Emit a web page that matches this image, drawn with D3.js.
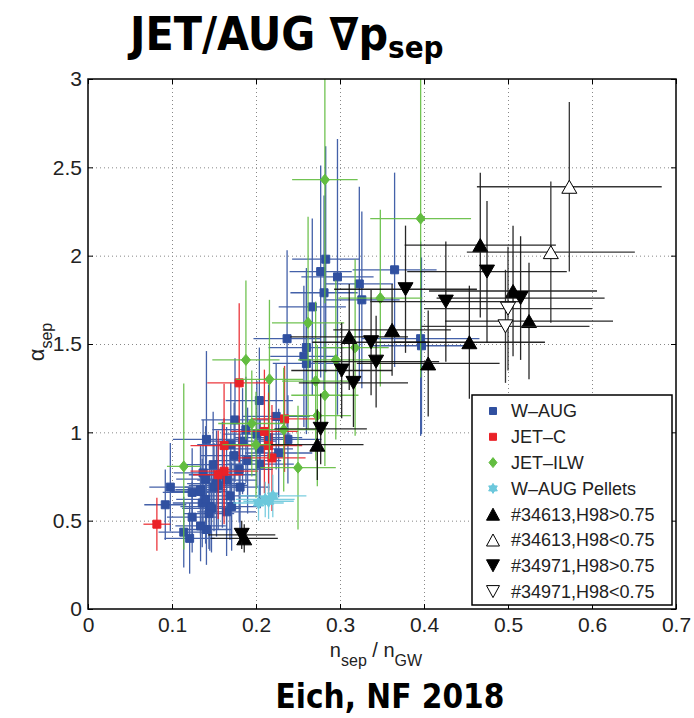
<!DOCTYPE html>
<html>
<head>
<meta charset="utf-8">
<script src="https://cdn.jsdelivr.net/npm/d3@7/dist/d3.min.js"></script>
<style>
  body { margin: 0; background: #fff; }
  text { font-family: "Liberation Sans", Arial, sans-serif; }
</style>
</head>
<body>
<svg id="chart" width="694" height="718"></svg>
<script>
// tick values / labels
const xTicks = [0, 0.1, 0.2, 0.3, 0.4, 0.5, 0.6, 0.7];
const xTickLabels = ["0", "0.1", "0.2", "0.3", "0.4", "0.5", "0.6", "0.7"];
const yTicks = [0, 0.5, 1, 1.5, 2, 2.5, 3];
const yTickLabels = ["0", "0.5", "1", "1.5", "2", "2.5", "3"];

// each point: [n_sep/n_GW, alpha_sep, x error, y error]
const wAug = [
  [0.283, 1.98, 0.040, 0.64], [0.277, 1.91, 0.037, 0.60], [0.297, 1.88, 0.043, 0.78],
  [0.281, 1.79, 0.040, 0.55], [0.323, 1.84, 0.040, 0.55], [0.326, 1.75, 0.045, 0.50],
  [0.267, 1.71, 0.040, 0.50], [0.365, 1.92, 0.050, 0.55], [0.237, 1.53, 0.040, 0.50],
  [0.260, 1.48, 0.045, 0.45], [0.257, 1.43, 0.040, 0.40], [0.260, 1.39, 0.040, 0.40],
  [0.396, 1.53, 0.070, 0.55], [0.397, 1.49, 0.060, 0.50],
  [0.204, 1.18, 0.040, 0.30], [0.224, 1.09, 0.040, 0.30], [0.175, 1.07, 0.040, 0.35],
  [0.141, 0.96, 0.040, 0.50], [0.238, 0.96, 0.040, 0.25], [0.201, 0.99, 0.040, 0.30],
  [0.188, 1.015, 0.040, 0.30], [0.184, 0.95, 0.040, 0.30], [0.204, 0.906, 0.040, 0.30],
  [0.174, 0.868, 0.040, 0.30], [0.227, 0.883, 0.040, 0.25], [0.205, 0.82, 0.040, 0.25],
  [0.149, 0.817, 0.035, 0.30], [0.137, 0.77, 0.035, 0.30], [0.098, 0.69, 0.025, 0.25],
  [0.092, 0.59, 0.025, 0.20], [0.124, 0.66, 0.035, 0.25], [0.124, 0.52, 0.030, 0.20],
  [0.114, 0.435, 0.030, 0.20], [0.121, 0.40, 0.030, 0.20], [0.141, 0.45, 0.030, 0.20],
  [0.134, 0.665, 0.035, 0.25], [0.145, 0.58, 0.035, 0.25], [0.165, 0.55, 0.035, 0.25],
  [0.171, 0.58, 0.035, 0.25], [0.153, 0.71, 0.035, 0.30], [0.165, 0.73, 0.035, 0.30],
  [0.181, 0.69, 0.035, 0.30], [0.136, 0.60, 0.035, 0.25], [0.150, 0.69, 0.035, 0.25],
  [0.140, 0.62, 0.035, 0.25], [0.147, 0.57, 0.035, 0.25], [0.140, 0.735, 0.035, 0.30],
  [0.134, 0.675, 0.030, 0.25], [0.155, 0.70, 0.035, 0.25], [0.169, 0.64, 0.035, 0.25],
  [0.144, 0.54, 0.030, 0.20], [0.134, 0.47, 0.030, 0.20], [0.180, 0.79, 0.040, 0.30],
  [0.160, 0.76, 0.040, 0.30], [0.190, 0.84, 0.040, 0.30], [0.215, 0.97, 0.040, 0.30],
  [0.170, 0.93, 0.040, 0.35]
];

const jetC = [
  [0.180, 1.28, 0.038, 0.45], [0.234, 1.076, 0.040, 0.30], [0.210, 1.005, 0.040, 0.35],
  [0.215, 0.925, 0.040, 0.30], [0.162, 0.925, 0.040, 0.35], [0.219, 0.855, 0.040, 0.30],
  [0.162, 0.78, 0.040, 0.30], [0.082, 0.48, 0.016, 0.15], [0.155, 0.76, 0.030, 0.25]
];

const jetIlw = [
  [0.282, 2.43, 0.039, 0.70], [0.396, 2.21, 0.060, 0.90], [0.262, 1.62, 0.043, 0.60],
  [0.348, 1.76, 0.050, 0.50], [0.318, 1.48, 0.040, 0.50], [0.295, 1.41, 0.045, 0.45],
  [0.188, 1.41, 0.040, 0.45], [0.216, 1.30, 0.040, 0.45], [0.271, 1.29, 0.040, 0.45],
  [0.282, 1.21, 0.040, 0.40], [0.273, 1.095, 0.040, 0.40], [0.250, 0.80, 0.045, 0.35],
  [0.114, 0.807, 0.020, 0.47], [0.233, 1.015, 0.040, 0.35], [0.200, 0.93, 0.040, 0.30],
  [0.195, 1.05, 0.040, 0.30]
];

const wAugPellets = [
  [0.203, 0.60, 0.030, 0.10], [0.211, 0.62, 0.035, 0.10], [0.220, 0.64, 0.040, 0.12],
  [0.215, 0.61, 0.030, 0.10]
];

const s34613High = [
  [0.467, 2.06, 0.090, 0.41], [0.506, 1.80, 0.100, 0.37], [0.525, 1.63, 0.100, 0.33],
  [0.454, 1.51, 0.090, 0.32], [0.405, 1.39, 0.085, 0.30], [0.362, 1.58, 0.070, 0.26],
  [0.311, 1.54, 0.070, 0.30], [0.273, 0.93, 0.055, 0.20], [0.186, 0.40, 0.040, 0.08]
];
const s34613Low = [
  [0.573, 2.39, 0.110, 0.48], [0.551, 2.02, 0.100, 0.40]
];
const s34971High = [
  [0.475, 1.91, 0.095, 0.40], [0.378, 1.81, 0.085, 0.36], [0.426, 1.74, 0.090, 0.34],
  [0.515, 1.76, 0.100, 0.35], [0.337, 1.51, 0.070, 0.30], [0.343, 1.40, 0.075, 0.26],
  [0.302, 1.35, 0.060, 0.27], [0.316, 1.28, 0.065, 0.25], [0.277, 1.02, 0.055, 0.20],
  [0.183, 0.42, 0.040, 0.08]
];
const s34971Low = [
  [0.500, 1.70, 0.100, 0.35], [0.497, 1.60, 0.100, 0.32]
];

const svg = d3.select("#chart");
const plotLeft = 88, plotRight = 676, plotTop = 79, plotBottom = 609;
const width = plotRight - plotLeft, height = plotBottom - plotTop;

const x = d3.scaleLinear().domain([0, 0.7]).range([plotLeft, plotRight]);
const y = d3.scaleLinear().domain([0, 3]).range([plotBottom, plotTop]);

// clip for error bars
svg.append("defs").append("clipPath").attr("id", "plotclip")
   .append("rect").attr("x", plotLeft).attr("y", plotTop).attr("width", width).attr("height", height);

// dotted grid
svg.append("g")
   .attr("transform", `translate(0,${plotBottom})`)
   .call(d3.axisBottom(x).tickValues(xTicks.slice(1, -1)).tickSize(-height).tickFormat(""))
   .call(g => g.select(".domain").remove())
   .selectAll("line").attr("stroke", "#888").attr("stroke-dasharray", "1,3");
svg.append("g")
   .attr("transform", `translate(${plotLeft},0)`)
   .call(d3.axisLeft(y).tickValues(yTicks.slice(1, -1)).tickSize(-width).tickFormat(""))
   .call(g => g.select(".domain").remove())
   .selectAll("line").attr("stroke", "#888").attr("stroke-dasharray", "1,3");

// markers
const sq = s => `M${-s/2},${-s/2}h${s}v${s}h${-s}Z`;
const diamond = (w, h) => `M0,${-h/2}L${w/2},0L0,${h/2}L${-w/2},0Z`;
const triUp = (w, h) => `M0,${-h/2}L${w/2},${h/2}L${-w/2},${h/2}Z`;
const triDown = (w, h) => `M0,${h/2}L${w/2},${-h/2}L${-w/2},${-h/2}Z`;
const hexStar = r => {
  const a = d3.range(6).map(i => [r * Math.sin(i * Math.PI / 3), -r * Math.cos(i * Math.PI / 3)]);
  return `M${a[0]}L${a[2]}L${a[4]}Z M${a[3]}L${a[5]}L${a[1]}Z`;
};

const plot = svg.append("g");

function drawSeries(data, barColor, path, fill, stroke) {
  const g = plot.append("g");
  const bars = g.append("g").attr("clip-path", "url(#plotclip)")
                .attr("stroke", barColor).attr("stroke-width", 1.3).attr("opacity", 0.9);
  data.forEach(d => {
    bars.append("line")
        .attr("x1", x(d[0] - d[2])).attr("x2", x(d[0] + d[2]))
        .attr("y1", y(d[1])).attr("y2", y(d[1]));
    bars.append("line")
        .attr("x1", x(d[0])).attr("x2", x(d[0]))
        .attr("y1", y(d[1] - d[3])).attr("y2", y(d[1] + d[3]));
  });
  g.selectAll(".m")
   .data(data)
   .enter()
   .append("path")
   .attr("transform", d => `translate(${x(d[0])},${y(d[1])})`)
   .attr("d", path)
   .attr("fill", fill)
   .attr("stroke", stroke)
   .attr("stroke-width", 1);
}

const blue = "#3050a0", red = "#ea2228", green = "#62bd40", cyan = "#6cc8dc";

drawSeries(wAug, blue, sq(8), blue, blue);
drawSeries(jetC, red, sq(8), red, red);
drawSeries(jetIlw, green, diamond(9, 11), green, green);
drawSeries(wAugPellets, cyan, hexStar(6), cyan, cyan);
drawSeries(s34613High, "#111", triUp(15, 13), "#000", "#000");
drawSeries(s34613Low, "#222", triUp(15, 13), "#fff", "#000");
drawSeries(s34971High, "#111", triDown(15, 13), "#000", "#000");
drawSeries(s34971Low, "#222", triDown(15, 13), "#fff", "#000");

// axes: inward ticks on all four sides
const tickStyle = g => {
  g.select(".domain").remove();
  g.selectAll("line").attr("stroke", "#000");
  g.selectAll("text").attr("font-size", 21).attr("fill", "#222")
   .style("font-family", '"Liberation Sans", Arial, sans-serif');
};
svg.append("g")
   .attr("transform", `translate(0,${plotBottom})`)
   .call(d3.axisBottom(x).tickValues(xTicks).tickSize(-5).tickPadding(8)
           .tickFormat((d, i) => xTickLabels[i]))
   .call(tickStyle);
svg.append("g")
   .attr("transform", `translate(${plotLeft},0)`)
   .call(d3.axisLeft(y).tickValues(yTicks).tickSize(-5).tickPadding(6)
           .tickFormat((d, i) => yTickLabels[i]))
   .call(tickStyle);
svg.append("g")
   .attr("transform", `translate(0,${plotTop})`)
   .call(d3.axisTop(x).tickValues(xTicks).tickSize(-5).tickFormat(""))
   .call(tickStyle);
svg.append("g")
   .attr("transform", `translate(${plotRight},0)`)
   .call(d3.axisRight(y).tickValues(yTicks).tickSize(-5).tickFormat(""))
   .call(tickStyle);

svg.append("rect")
   .attr("x", plotLeft).attr("y", plotTop).attr("width", width).attr("height", height)
   .attr("fill", "none").attr("stroke", "#000").attr("stroke-width", 1.5);

// axis titles
const xl = svg.append("text")
   .attr("x", (plotLeft + plotRight) / 2 - 6).attr("y", 657)
   .attr("text-anchor", "middle").attr("font-size", 20).attr("fill", "#222");
xl.append("tspan").text("n");
xl.append("tspan").attr("font-size", 16).attr("dy", 9).text("sep");
xl.append("tspan").attr("dy", -9).text(" / n");
xl.append("tspan").attr("font-size", 16).attr("dy", 9).text("GW");

const yl = svg.append("text")
   .attr("transform", "translate(44,342) rotate(-90)")
   .attr("text-anchor", "middle").attr("font-size", 22).attr("fill", "#222");
yl.append("tspan").text("α");
yl.append("tspan").attr("font-size", 16).attr("dy", 8).text("sep");

// title and footer
const title = svg.append("text")
   .attr("x", 130).attr("y", 50)
   .attr("font-size", 46).attr("font-weight", "bold")
   .style("font-family", '"Liberation Sans Narrow", "DejaVu Sans Condensed", sans-serif');
title.append("tspan").text("JET/AUG ∇p");
title.append("tspan").attr("font-size", 31).attr("dy", 8).text("sep");

svg.append("text")
   .attr("x", 390).attr("y", 708)
   .attr("text-anchor", "middle")
   .attr("font-size", 33).attr("font-weight", "bold")
   .style("font-family", '"Liberation Sans Narrow", "DejaVu Sans Condensed", sans-serif')
   .text("Eich, NF 2018");

// legend
const legendItems = [
  { label: "W–AUG", path: sq(7), fill: blue, stroke: blue },
  { label: "JET–C", path: sq(7), fill: red, stroke: red },
  { label: "JET–ILW", path: diamond(8, 10), fill: green, stroke: green },
  { label: "W–AUG Pellets", path: hexStar(5), fill: cyan, stroke: cyan },
  { label: "#34613,H98>0.75", path: triUp(13, 12), fill: "#000", stroke: "#000" },
  { label: "#34613,H98<0.75", path: triUp(13, 12), fill: "#fff", stroke: "#000" },
  { label: "#34971,H98>0.75", path: triDown(13, 12), fill: "#000", stroke: "#000" },
  { label: "#34971,H98<0.75", path: triDown(13, 12), fill: "#fff", stroke: "#000" }
];
const legend = svg.append("g").attr("transform", "translate(472,395)");
legend.append("rect").attr("width", 200).attr("height", 210)
      .attr("fill", "#fff").attr("stroke", "#000").attr("stroke-width", 1.5);
legendItems.forEach((d, i) => {
  const row = legend.append("g").attr("transform", `translate(0,${16 + i * 25.8})`);
  row.append("path").attr("transform", "translate(21,0)").attr("d", d.path)
     .attr("fill", d.fill).attr("stroke", d.stroke);
  row.append("text").attr("x", 39).attr("dy", "0.35em")
     .attr("font-size", 18).attr("fill", "#222").text(d.label);
});
</script>
</body>
</html>
